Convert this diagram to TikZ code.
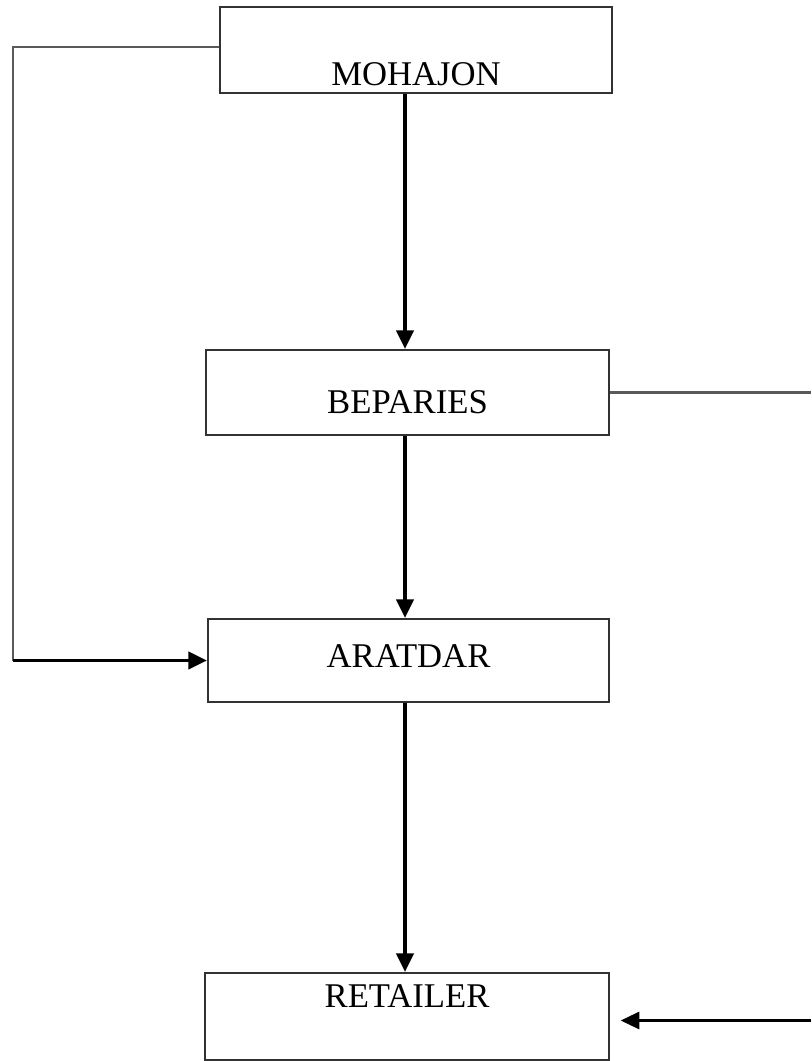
\documentclass[tikz,border=0pt]{standalone}
\usepackage{fontspec}
\setmainfont{Liberation Serif}
\usetikzlibrary{arrows.meta}
\definecolor{myline}{RGB}{50, 50, 50}
\definecolor{mygray}{RGB}{90, 90, 90}

\tikzset{
    stage/.style={draw=myline, line width=1.6pt, inner ysep=0pt, font=\fontsize{26}{30}\selectfont},
    flow/.style={line width=2.4pt, -{Triangle[length=14pt,width=13pt]}},
    link/.style={draw=mygray, line width=1.6pt}
}

\begin{document}
\begin{tikzpicture}[x=0.75pt, y=-0.75pt]
        \useasboundingbox (0,0) rectangle (811,1061);
        % Stages of the chain
        \node[stage, minimum width=294pt, text height=58.5pt, text depth=6pt] (mohajon) at (416,50) {MOHAJON};
        \node[stage, minimum width=302pt, text height=47.25pt, text depth=16.5pt] (beparies) at (407.5,392.5) {BEPARIES};
        \node[stage, minimum width=300.75pt, text height=36pt, text depth=26.25pt] (aratdar) at (408.5,660.5) {ARATDAR};
        \node[stage, minimum width=303pt, text height=25.5pt, text depth=39.75pt] (retailer) at (407,1016.5) {RETAILER};
        
        % Spine and rails
        \coordinate (spine) at (405,0);
        \coordinate (leftrail) at (13,0);
        \coordinate (rightrail) at (811,0);
        
        % Main flow
        \draw[flow] (mohajon.south -| spine) -- (beparies.north -| spine);
        \draw[flow] (beparies.south -| spine) -- (aratdar.north -| spine);
        \draw[flow] (aratdar.south -| spine) -- (retailer.north -| spine);
        
        % Mohajon straight to Aratdar
        \draw[link] ([yshift=2pt]mohajon.west) -- ([yshift=2pt]mohajon.west -| leftrail) -- (aratdar.west -| leftrail);
        \draw[flow] (aratdar.west -| leftrail) -- (aratdar.west);
        
        % Beparies to Retailer, round the right side
        \draw[link] (beparies.east) -- (beparies.east -| rightrail);
        \draw[flow, line width=1.6pt] ([yshift=-3pt]retailer.east -| rightrail) -- ([xshift=8pt, yshift=-3pt]retailer.east);
    \end{tikzpicture}
\end{document}
